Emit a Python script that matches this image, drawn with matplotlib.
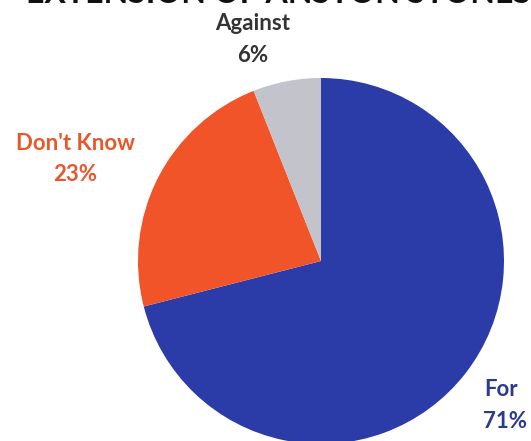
import matplotlib
matplotlib.use("Agg")
import matplotlib.pyplot as plt

plt.rcParams['font.family'] = ['Lato', 'DejaVu Sans']

labels = ["For", "Don't Know", "Against"]
values = [71, 23, 6]
colors = ["#2b3ba8", "#f05428", "#c3c3cb"]
text_colors = ["#2a3a8e", "#e8572c", "#333333"]

W, H = 531, 441
fig = plt.figure(figsize=(W / 100, H / 100), dpi=100)
fig.patch.set_facecolor("white")

# pie centre and radius in pixels
cx, cy, r = 321, 261, 183
ax = fig.add_axes([(cx - r) / W, (H - cy - r) / H, 2 * r / W, 2 * r / H])
ax.pie(values, colors=colors, startangle=90, counterclock=False, radius=1,
       wedgeprops=dict(linewidth=0))
ax.set_xlim(-1, 1)
ax.set_ylim(-1, 1)
ax.set_aspect("equal")
ax.axis("off")

# title, mostly cropped at the top like the source image
fig.text(531 / W, 1 - 3 / H, "EXTENSION OF ANSTON STONES", ha="right", va="baseline",
         fontsize=23, fontweight="bold", color="#111111")

# label positions in pixels: (name centre, percent centre)
label_pos = [((501, 390), (505, 421)), ((75, 143), (75, 175)), ((253, 23), (253, 55))]
for lab, v, c, (p1, p2) in zip(labels, values, text_colors, label_pos):
    fig.text(p1[0] / W, 1 - p1[1] / H, lab, ha="center", va="center",
             fontsize=16, fontweight="bold", color=c)
    fig.text(p2[0] / W, 1 - p2[1] / H, f"{v}%", ha="center", va="center",
             fontsize=16, fontweight="bold", color=c)

fig.savefig("out.png", dpi=100)
